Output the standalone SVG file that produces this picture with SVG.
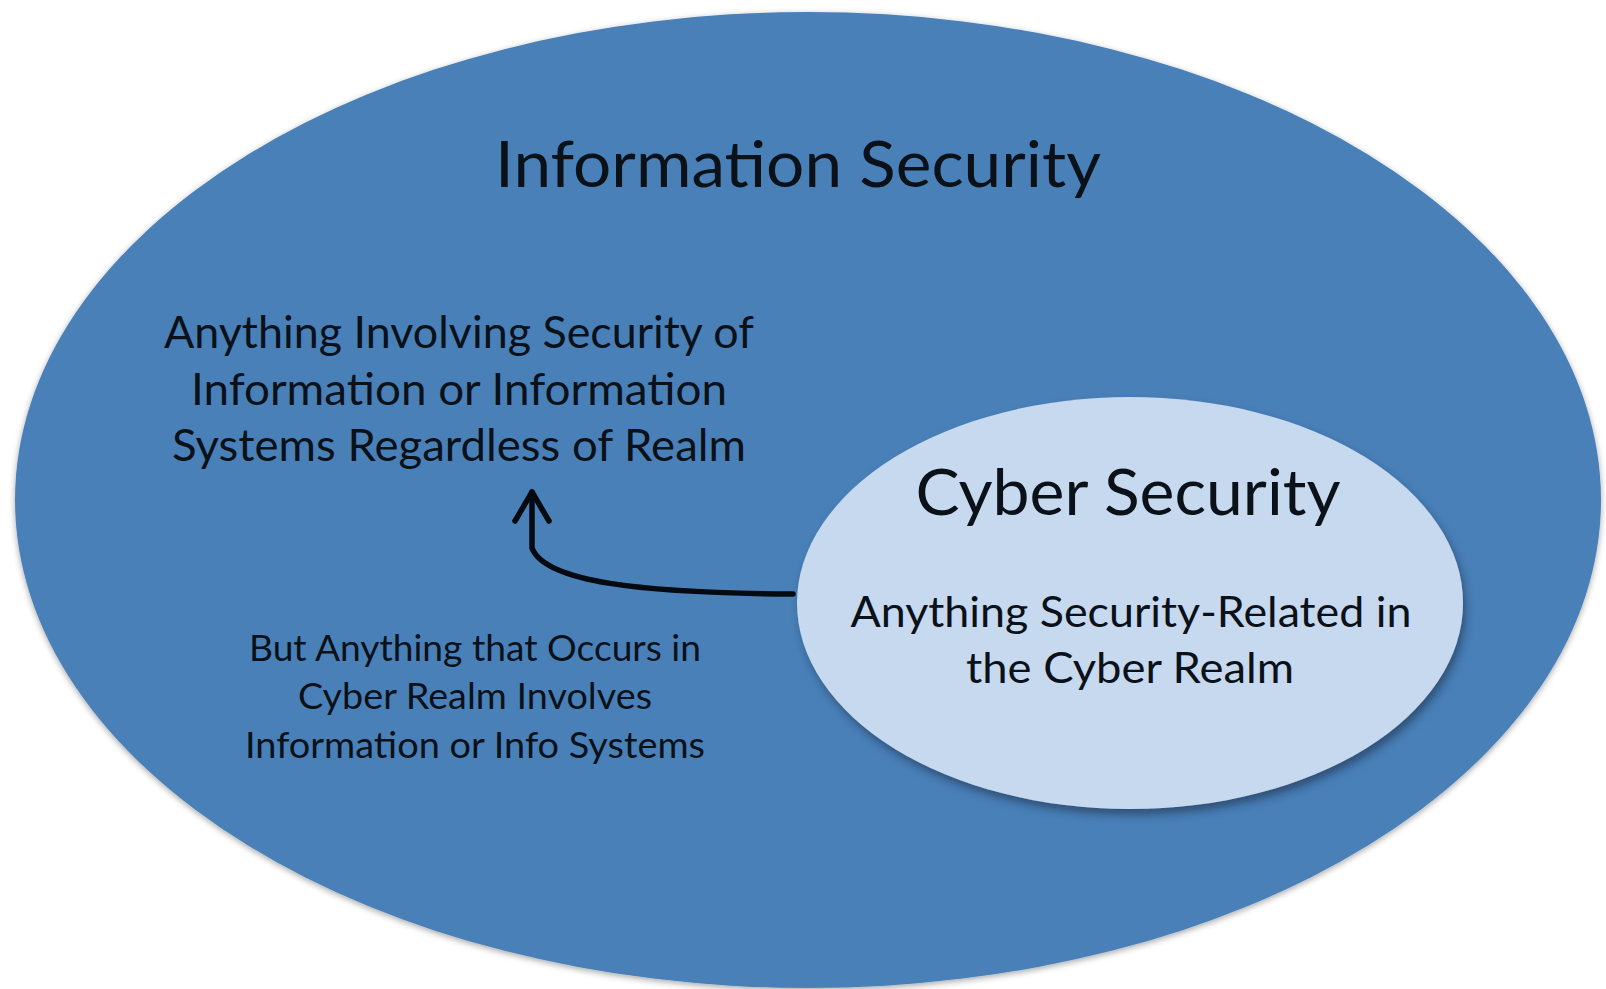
<svg xmlns="http://www.w3.org/2000/svg" width="1606" height="989" viewBox="0 0 1606 989">
<style>
text{font-family:Lato,"Open Sans","Liberation Sans",sans-serif;fill:#0b1118;text-anchor:middle}
.title{font-size:64px}
.body{font-size:45px}
.small{font-size:36px}
.cbody{font-size:42px}
</style>
<defs>
<filter id="shOuter" x="-5%" y="-5%" width="110%" height="110%">
<feDropShadow dx="0" dy="2" stdDeviation="3" flood-color="#000" flood-opacity="0.35"/>
</filter>
<filter id="shInner" x="-10%" y="-10%" width="120%" height="125%">
<feDropShadow dx="3" dy="6" stdDeviation="4" flood-color="#1c3550" flood-opacity="0.6"/>
</filter>
<marker id="arrow" viewBox="0 0 40 40" refX="34" refY="20" markerWidth="40" markerHeight="40" markerUnits="userSpaceOnUse" orient="auto">
<path d="M 5 3 L 34 20 L 5 37" fill="none" stroke="#050a10" stroke-width="5.5" stroke-linecap="round" stroke-linejoin="round"/>
</marker>
</defs>
<g id="information-security">
<ellipse cx="808" cy="500" rx="793" ry="488" fill="#4a80b8" filter="url(#shOuter)"/>
<text class="title" x="798" y="187" textLength="606" lengthAdjust="spacingAndGlyphs">Information Security</text>
<text class="body" x="459" y="348" textLength="590" lengthAdjust="spacingAndGlyphs">Anything Involving Security of</text>
<text class="body" x="459" y="405" textLength="536" lengthAdjust="spacingAndGlyphs">Information or Information</text>
<text class="body" x="459" y="461" textLength="574" lengthAdjust="spacingAndGlyphs">Systems Regardless of Realm</text>
<text class="small" x="475" y="661" textLength="452" lengthAdjust="spacingAndGlyphs">But Anything that Occurs in</text>
<text class="small" x="475" y="709" textLength="354" lengthAdjust="spacingAndGlyphs">Cyber Realm Involves</text>
<text class="small" x="475" y="758" textLength="460" lengthAdjust="spacingAndGlyphs">Information or Info Systems</text>
</g>
<g id="cyber-security">
<ellipse cx="1130" cy="603" rx="333" ry="206" fill="#c6d9ef" filter="url(#shInner)"/>
<text class="title" x="1128" y="515" textLength="425" lengthAdjust="spacingAndGlyphs">Cyber Security</text>
<text class="cbody" x="1131" y="627" textLength="561" lengthAdjust="spacingAndGlyphs">Anything Security-Related in</text>
<text class="cbody" x="1130" y="683" textLength="328" lengthAdjust="spacingAndGlyphs">the Cyber Realm</text>
</g>
<g id="connectors" fill="none" stroke="#050a10" stroke-width="5.5" stroke-linecap="round" stroke-linejoin="round">
<path d="M 793 594 C 640 593 545 582 532 548 L 532 492" marker-end="url(#arrow)"/>
</g>
</svg>
